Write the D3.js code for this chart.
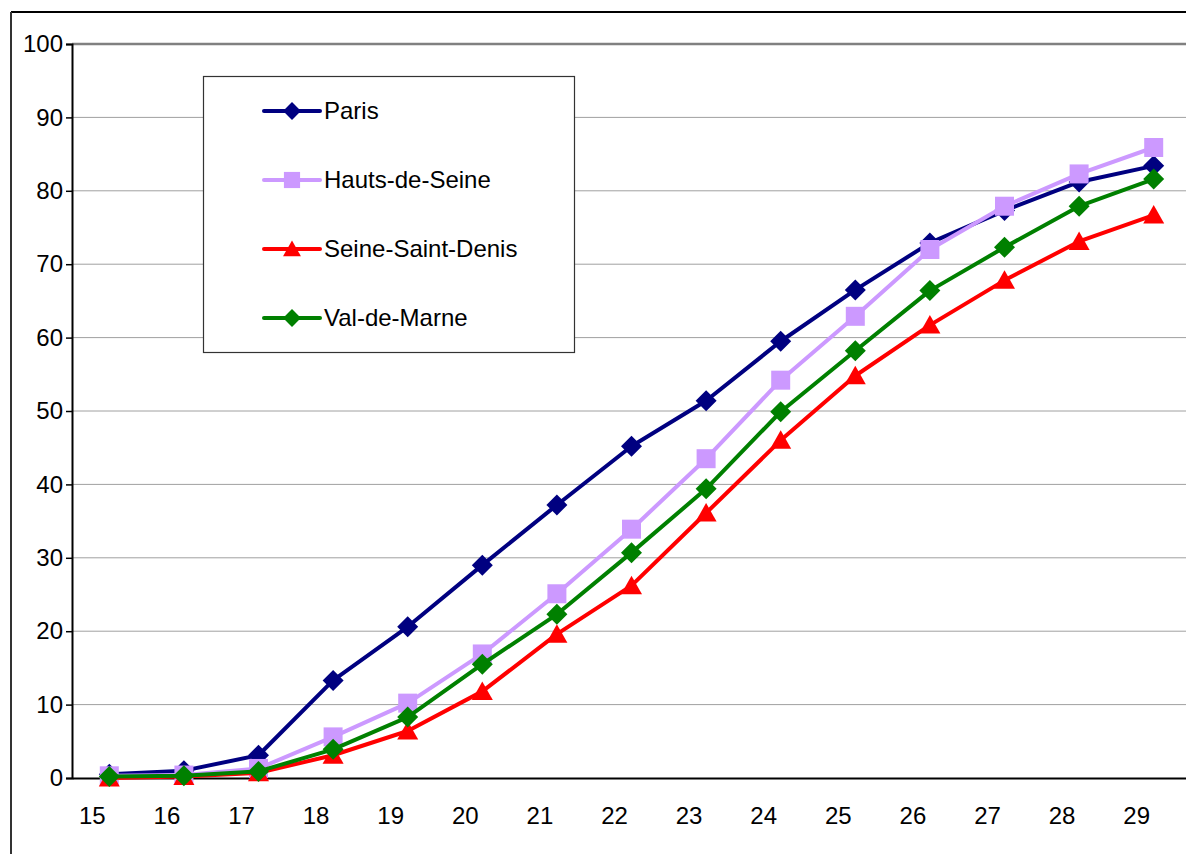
<!DOCTYPE html>
<html><head><meta charset="utf-8">
<script src="https://cdn.jsdelivr.net/npm/d3@7/dist/d3.min.js"></script>
<style>
html,body{margin:0;padding:0;background:#fff;}
svg{display:block;font-family:"Liberation Sans",Arial,sans-serif;}
</style></head>
<body>
<script>
const ages = [15,16,17,18,19,20,21,22,23,24,25,26,27,28,29];
const yTicks = [0,10,20,30,40,50,60,70,80,90,100];
const paris = [0.5,1.0,3.1,13.3,20.6,29.0,37.2,45.2,51.4,59.5,66.5,72.9,77.3,81.2,83.4];
const hautsDeSeine = [0.3,0.4,1.3,5.6,10.2,16.9,25.1,33.9,43.5,54.2,62.9,72.0,77.9,82.3,85.9];
const seineSaintDenis = [0.0,0.2,0.7,3.1,6.4,11.8,19.6,26.2,36.1,46.0,54.8,61.7,67.8,73.1,76.7];
const valDeMarne = [0.2,0.3,0.9,3.9,8.3,15.5,22.3,30.7,39.4,49.9,58.2,66.4,72.3,77.9,81.6];
const seriesNames = ["Paris","Hauts-de-Seine","Seine-Saint-Denis","Val-de-Marne"];
const seriesValues = [paris,hautsDeSeine,seineSaintDenis,valDeMarne];
const seriesColors = ["#000080","#CC99FF","#FF0000","#008000"];
const seriesShapes = ["diamond","square","triangle","diamond"];

const W=1186,H=854;
const FONT="Liberation Sans, Arial, sans-serif";
const svg=d3.select("body").append("svg").attr("width",W).attr("height",H);

// outer frame
svg.append("line").attr("x1",11).attr("x2",W).attr("y1",12).attr("y2",12).attr("stroke","#000").attr("stroke-width",2);
svg.append("line").attr("x1",11).attr("x2",11).attr("y1",12).attr("y2",H).attr("stroke","#333").attr("stroke-width",2);

const plotL=72, plotR=1191, plotT=44, plotB=778;
const x=d3.scaleBand().domain(ages).range([plotL,plotR]);
const y=d3.scaleLinear().domain([0,100]).range([plotB,plotT]);
const cx=a=>x(a)+x.bandwidth()/2;

// gridlines
svg.append("g").selectAll("line").data(yTicks.filter(t=>t>0&&t<100)).join("line")
  .attr("x1",plotL).attr("x2",W).attr("y1",d=>y(d)).attr("y2",d=>y(d))
  .attr("stroke","#a0a0a0").attr("stroke-width",1);
svg.append("line").attr("x1",plotL).attr("x2",W).attr("y1",y(100)).attr("y2",y(100))
  .attr("stroke","#808080").attr("stroke-width",2.5);

// y axis
const yAxis=d3.axisLeft(y).tickValues(yTicks).tickSize(6).tickPadding(3);
const gy=svg.append("g").attr("transform",`translate(${plotL},0)`).call(yAxis);
gy.select(".domain").attr("stroke","#000").attr("stroke-width",2);
gy.selectAll(".tick line").attr("stroke","#000").attr("stroke-width",1.5);
gy.selectAll(".tick text").attr("font-size",24).attr("fill","#000").attr("font-family",FONT);

// x axis
const xAxis=d3.axisBottom(x).tickSize(0).tickPadding(29);
const gx=svg.append("g").attr("transform",`translate(0,${plotB})`).call(xAxis);
gx.select(".domain").attr("stroke","#000").attr("stroke-width",2);
gx.selectAll(".tick text").attr("font-size",24).attr("fill","#000").attr("dx",-17).attr("font-family",FONT);

function markerPath(shape){
  if(shape==="diamond") return "M0,-10.5L10.5,0L0,10.5L-10.5,0Z";
  if(shape==="square") return "M-9.5,-9.5H9.5V9.5H-9.5Z";
  return "M0,-10L10.5,8.5L-10.5,8.5Z";
}

const line=d3.line().x((d,i)=>cx(ages[i])).y(d=>y(d));
seriesValues.forEach((vals,si)=>{
  const g=svg.append("g");
  g.append("path").datum(vals).attr("d",line).attr("fill","none")
   .attr("stroke",seriesColors[si]).attr("stroke-width",4).attr("stroke-linejoin","round");
  g.selectAll("path.m").data(vals).join("path").attr("class","m")
   .attr("d",markerPath(seriesShapes[si]))
   .attr("transform",(d,i)=>`translate(${cx(ages[i])},${y(d)})`)
   .attr("fill",seriesColors[si]);
});

// legend
const lg=svg.append("g");
lg.append("rect").attr("x",203.5).attr("y",76.5).attr("width",371).attr("height",276)
  .attr("fill","#fff").attr("stroke","#333").attr("stroke-width",1.2);
const rows=[111,180,249,318];
seriesNames.forEach((n,i)=>{
  const ry=rows[i];
  lg.append("line").attr("x1",264).attr("x2",320).attr("y1",ry).attr("y2",ry)
    .attr("stroke",seriesColors[i]).attr("stroke-width",4).attr("stroke-linecap","round");
  lg.append("path").attr("d",markerPath(seriesShapes[i])).attr("transform",`translate(292,${ry}) scale(0.85)`).attr("fill",seriesColors[i]);
  lg.append("text").attr("x",324).attr("y",ry+8).attr("font-size",24).attr("fill","#000").attr("font-family",FONT).text(n);
});
</script>
</body></html>
